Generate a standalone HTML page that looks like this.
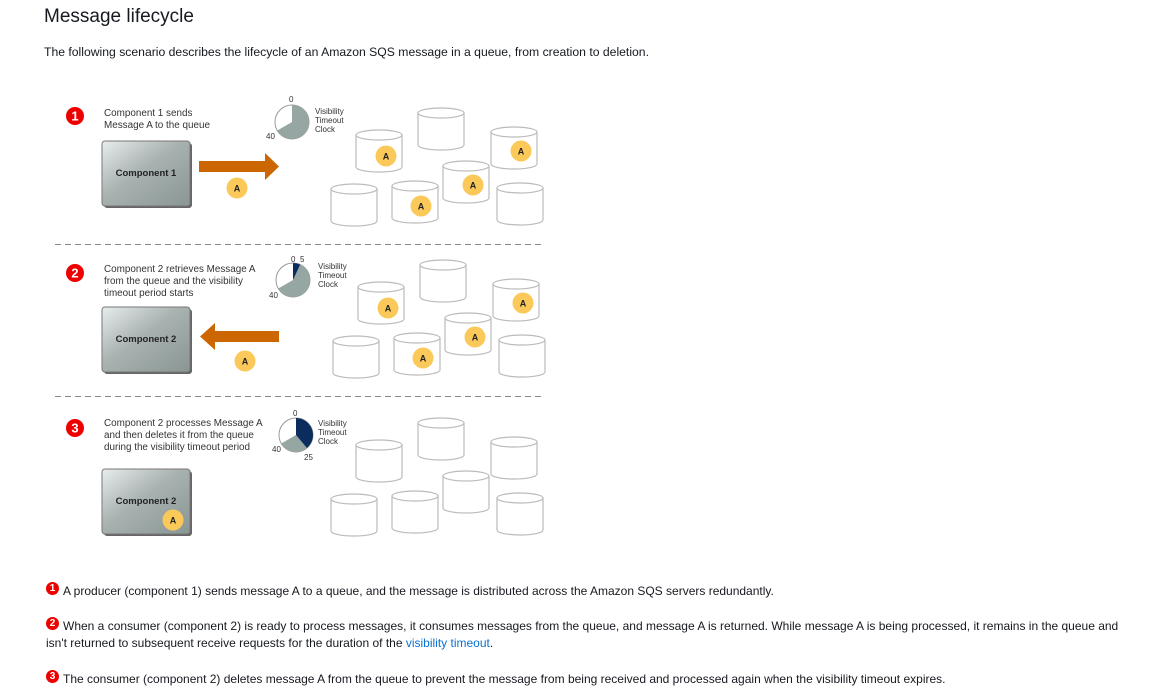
<!DOCTYPE html>
<html><head><meta charset="utf-8"><style>
body{margin:0;width:1150px;height:698px;background:#fff;position:relative;overflow:hidden;font-family:"Liberation Sans",sans-serif;color:#16191f}
.t{position:absolute;white-space:nowrap}
.b{display:inline-block;width:13px;height:13px;border-radius:50%;background:#e00;color:#fff;font-size:10px;font-weight:bold;text-align:center;line-height:13px;vertical-align:4px;margin-right:4px}
a{color:#0972d3;text-decoration:none}
svg text{font-family:"Liberation Sans",sans-serif}
</style></head><body>
<div class="t" style="left:44px;top:6px;font-size:19px;">Message lifecycle</div>
<div class="t" style="left:44px;top:45px;font-size:12.2px;">The following scenario describes the lifecycle of an Amazon SQS message in a queue, from creation to deletion.</div>

<svg width="1150" height="570" style="position:absolute;left:0;top:0">
<defs>
<linearGradient id="g" x1="0" y1="0" x2="1" y2="1"><stop offset="0" stop-color="#e8eced"/><stop offset=".45" stop-color="#a8b2b0"/><stop offset="1" stop-color="#8a9694"/></linearGradient>
<g id="cyl"><path d="M0,5 L0,37 A23,5 0 0 0 46,37 L46,5" fill="#fff" stroke="#bbb" stroke-width="1.2"/><ellipse cx="23" cy="5" rx="23" ry="5" fill="#fff" stroke="#bbb" stroke-width="1.2"/></g>
<g id="A"><circle r="10.5" fill="#fbc95a"/><text y="3.5" text-anchor="middle" font-size="9" font-weight="bold" fill="#222">A</text></g>
</defs>
<g stroke="#888" stroke-dasharray="6,4"><line x1="55" y1="244.5" x2="545" y2="244.5"/><line x1="55" y1="396.5" x2="545" y2="396.5"/></g>

<!-- panel 1 -->
<circle cx="75" cy="116" r="9" fill="#e00"/><text x="75" y="120.5" text-anchor="middle" font-size="13" font-weight="bold" fill="#fff">1</text>
<text font-size="9.9" fill="#333"><tspan x="104" y="116">Component 1 sends</tspan><tspan x="104" y="128">Message A to the queue</tspan></text>
<rect x="104" y="143" width="88" height="65" rx="3" fill="#666"/><rect x="102" y="141" width="88" height="65" rx="3" fill="url(#g)" stroke="#777"/>
<text x="146" y="176" text-anchor="middle" font-size="9.5" font-weight="bold" fill="#222">Component 1</text>
<path d="M199,161 L265,161 L265,153 L279,166.5 L265,180 L265,172 L199,172Z" fill="#cc6600"/>
<use href="#A" x="237" y="188"/>
<circle cx="292" cy="122" r="17" fill="#fff" stroke="#999"/><path d="M292,122 L292,105 A17,17 0 1 1 277.3,130.5Z" fill="#96a6a2"/>
<text font-size="8" fill="#333"><tspan x="289" y="102">0</tspan><tspan x="266" y="139">40</tspan><tspan x="315" y="114">Visibility</tspan><tspan x="315" y="123">Timeout</tspan><tspan x="315" y="132">Clock</tspan></text>
<use href="#cyl" x="418" y="108"/><use href="#cyl" x="356" y="130"/><use href="#cyl" x="491" y="127"/><use href="#cyl" x="443" y="161"/><use href="#cyl" x="331" y="184"/><use href="#cyl" x="392" y="181"/><use href="#cyl" x="497" y="183"/>
<use href="#A" x="386" y="156"/><use href="#A" x="521" y="151"/><use href="#A" x="473" y="185"/><use href="#A" x="421" y="206"/>

<!-- panel 2 -->
<circle cx="75" cy="273" r="9" fill="#e00"/><text x="75" y="277.5" text-anchor="middle" font-size="13" font-weight="bold" fill="#fff">2</text>
<text font-size="9.9" fill="#333"><tspan x="104" y="272">Component 2 retrieves Message A</tspan><tspan x="104" y="284">from the queue and the visibility</tspan><tspan x="104" y="296">timeout period starts</tspan></text>
<rect x="104" y="309" width="88" height="65" rx="3" fill="#666"/><rect x="102" y="307" width="88" height="65" rx="3" fill="url(#g)" stroke="#777"/>
<text x="146" y="342" text-anchor="middle" font-size="9.5" font-weight="bold" fill="#222">Component 2</text>
<path d="M279,331 L215,331 L215,323 L200,336.5 L215,350 L215,342 L279,342Z" fill="#cc6600"/>
<use href="#A" x="245" y="361"/>
<circle cx="293" cy="280" r="17" fill="#fff" stroke="#999"/><path d="M293,280 L300.2,264.6 A17,17 0 1 1 278.3,288.5Z" fill="#96a6a2"/><path d="M293,280 L293,263 A17,17 0 0 1 300.2,264.6Z" fill="#0b2d5e"/>
<text font-size="8" fill="#333"><tspan x="291" y="262">0</tspan><tspan x="300" y="262">5</tspan><tspan x="269" y="298">40</tspan><tspan x="318" y="269">Visibility</tspan><tspan x="318" y="278">Timeout</tspan><tspan x="318" y="287">Clock</tspan></text>
<g transform="translate(2,152)"><use href="#cyl" x="418" y="108"/><use href="#cyl" x="356" y="130"/><use href="#cyl" x="491" y="127"/><use href="#cyl" x="443" y="161"/><use href="#cyl" x="331" y="184"/><use href="#cyl" x="392" y="181"/><use href="#cyl" x="497" y="183"/>
<use href="#A" x="386" y="156"/><use href="#A" x="521" y="151"/><use href="#A" x="473" y="185"/><use href="#A" x="421" y="206"/></g>

<!-- panel 3 -->
<circle cx="75" cy="428" r="9" fill="#e00"/><text x="75" y="432.5" text-anchor="middle" font-size="13" font-weight="bold" fill="#fff">3</text>
<text font-size="9.9" fill="#333"><tspan x="104" y="426">Component 2 processes Message A</tspan><tspan x="104" y="438">and then deletes it from the queue</tspan><tspan x="104" y="450">during the visibility timeout period</tspan></text>
<rect x="104" y="471" width="88" height="65" rx="3" fill="#666"/><rect x="102" y="469" width="88" height="65" rx="3" fill="url(#g)" stroke="#777"/>
<text x="146" y="504" text-anchor="middle" font-size="9.5" font-weight="bold" fill="#222">Component 2</text>
<use href="#A" x="173" y="520"/>
<circle cx="296" cy="435" r="17" fill="#fff" stroke="#999"/><path d="M296,435 L306.9,448 A17,17 0 0 1 281.3,443.5Z" fill="#96a6a2"/><path d="M296,435 L296,418 A17,17 0 0 1 306.9,448Z" fill="#0b2d5e"/>
<text font-size="8" fill="#333"><tspan x="293" y="416">0</tspan><tspan x="272" y="452">40</tspan><tspan x="304" y="460">25</tspan><tspan x="318" y="426">Visibility</tspan><tspan x="318" y="435">Timeout</tspan><tspan x="318" y="444">Clock</tspan></text>
<g transform="translate(0,310)"><use href="#cyl" x="418" y="108"/><use href="#cyl" x="356" y="130"/><use href="#cyl" x="491" y="127"/><use href="#cyl" x="443" y="161"/><use href="#cyl" x="331" y="184"/><use href="#cyl" x="392" y="181"/><use href="#cyl" x="497" y="183"/></g>
</svg>

<div class="t" style="left:46px;top:582px;font-size:12px;"><span class="b">1</span>A producer (component 1) sends message A to a queue, and the message is distributed across the Amazon SQS servers redundantly.</div>
<div class="t" style="left:46px;top:617px;font-size:12px;line-height:17px;"><span class="b">2</span>When a consumer (component 2) is ready to process messages, it consumes messages from the queue, and message A is returned. While message A is being processed, it remains in the queue and<br>isn't returned to subsequent receive requests for the duration of the <a>visibility timeout</a>.</div>
<div class="t" style="left:46px;top:670px;font-size:12px;"><span class="b">3</span>The consumer (component 2) deletes message A from the queue to prevent the message from being received and processed again when the visibility timeout expires.</div>
</body></html>
